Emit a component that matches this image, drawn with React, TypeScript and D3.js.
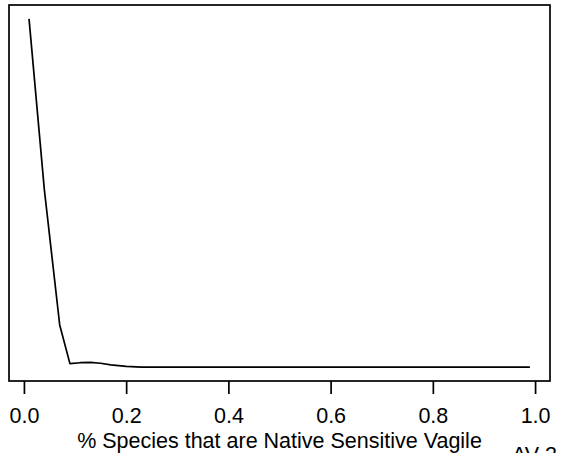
import { useEffect, useRef } from "react";
import * as d3 from "d3";

// partial response curve
const pctVagile = [0.01, 0.04, 0.07, 0.09, 0.11, 0.13, 0.15, 0.17, 0.2, 0.23, 0.5, 0.99];
const response = [1.0, 0.509, 0.121, 0.01, 0.0125, 0.0135, 0.011, 0.0065, 0.002, 0.0, 0.0, 0.0];
const xTicks = [0, 0.2, 0.4, 0.6, 0.8, 1.0];
const xTitle = "% Species that are Native Sensitive Vagile";
const cornerNote = "AV-2";

export default function App() {
  const ref = useRef<SVGSVGElement>(null);

  useEffect(() => {
    const svg = d3.select(ref.current!);
    svg.selectAll("*").remove();

    const box = { left: 9, top: 5, right: 550, bottom: 381 };
    const font = "'Liberation Sans', Arial, Helvetica, sans-serif";
    const fs = 21.5;

    // R-style 4% padding on both axes
    const pad = (lo: number, hi: number) => {
      const p = (hi - lo) * 0.04;
      return [lo - p, hi + p];
    };

    const x = d3
      .scaleLinear()
      .domain(pad(d3.min(pctVagile)!, d3.max(pctVagile)!))
      .range([box.left, box.right]);

    const y = d3
      .scaleLinear()
      .domain(pad(d3.min(response)!, d3.max(response)!))
      .range([box.bottom, box.top]);

    const pts = pctVagile.map((v, i) => [v, response[i]] as [number, number]);

    svg
      .append("path")
      .datum(pts)
      .attr("fill", "none")
      .attr("stroke", "#000")
      .attr("stroke-width", 1.7)
      .attr("stroke-linejoin", "round")
      .attr(
        "d",
        d3
          .line<[number, number]>()
          .x((d) => x(d[0]))
          .y((d) => y(d[1]))
      );

    svg
      .append("rect")
      .attr("x", box.left)
      .attr("y", box.top)
      .attr("width", box.right - box.left)
      .attr("height", box.bottom - box.top)
      .attr("fill", "none")
      .attr("stroke", "#000")
      .attr("stroke-width", 1.7);

    const ax = svg
      .append("g")
      .attr("transform", `translate(0,${box.bottom})`)
      .call(
        d3
          .axisBottom(x)
          .tickValues(xTicks)
          .tickFormat(d3.format(".1f"))
          .tickSize(13)
          .tickPadding(14)
      );
    ax.select(".domain").remove();
    ax.selectAll("line").attr("stroke-width", 1.7);
    ax.selectAll("text")
      .attr("font-family", font)
      .attr("font-size", fs)
      .attr("fill", "#000");

    svg
      .append("text")
      .attr("x", x(0.5))
      .attr("y", 448)
      .attr("text-anchor", "middle")
      .attr("font-family", font)
      .attr("font-size", fs)
      .text(xTitle);

    svg
      .append("text")
      .attr("x", 512)
      .attr("y", 462)
      .attr("font-family", font)
      .attr("font-size", fs)
      .text(cornerNote);
  }, []);

  return (
    <svg
      ref={ref}
      width={561}
      height={453}
      style={{ position: "absolute", left: 0, top: 0, background: "#fff" }}
    />
  );
}
